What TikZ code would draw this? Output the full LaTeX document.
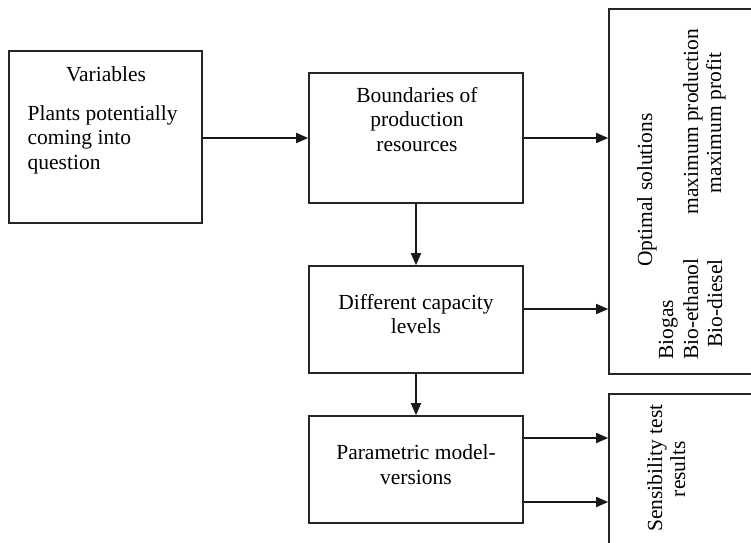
\documentclass[tikz,border=0pt]{standalone}
\usepackage{fontspec}
\setmainfont{Liberation Serif}
\usetikzlibrary{arrows.meta}
\begin{document}
\begin{tikzpicture}[x=1pt,y=-1pt,
  box/.style={draw=black!85, line width=1.6pt, fill=none, inner sep=0pt},
  txt/.style={inner sep=0pt, font=\fontsize{21.5}{24.5}\selectfont},
  arr/.style={line width=1.6pt, draw=black!90, -{Triangle[length=12pt,width=10pt]}}]
\useasboundingbox (0,0) rectangle (751,542);
\clip (0,0) rectangle (751,542);
\fill[white] (0,0) rectangle (751,542);
% boxes
\node[box, minimum width=193pt, minimum height=172pt] (var) at (105.5,137) {};
\node[box, minimum width=214pt, minimum height=130pt] (bound) at (416,138) {};
\node[box, minimum width=214pt, minimum height=107pt] (cap) at (416,319.5) {};
\node[box, minimum width=214pt, minimum height=107pt] (par) at (416,469.5) {};
\node[box, minimum width=170pt, minimum height=365pt] (opt) at (694,191.5) {};
\node[box, minimum width=170pt, minimum height=170pt] (sens) at (694,479) {};
% texts
\node[txt, anchor=base] (t1) at (106,81) {Variables};
\node[txt, anchor=base west] (t2) at (27.5,120) {Plants potentially};
\node[txt, anchor=base west] (t3) at (27.5,144.5) {coming into};
\node[txt, anchor=base west] (t4) at (27.5,169) {question};
\node[txt, anchor=base] (t5) at (417,102) {Boundaries of};
\node[txt, anchor=base] (t6) at (417,126.5) {production};
\node[txt, anchor=base] (t7) at (417,151) {resources};
\node[txt, anchor=base] (t8) at (416,309) {Different capacity};
\node[txt, anchor=base] (t9) at (416,333.5) {levels};
\node[txt, anchor=base] (t10) at (416,459.5) {Parametric model-};
\node[txt, anchor=base] (t11) at (416,484) {versions};
\node[txt, rotate=90, anchor=base] (r1) at (652,190) {Optimal solutions};
\node[txt, rotate=90, anchor=base] (r2) at (698,121.5) {maximum production};
\node[txt, rotate=90, anchor=base] (r3) at (721,123) {maximum profit};
\node[txt, rotate=90, anchor=base west] (r4) at (673,360) {Biogas};
\node[txt, rotate=90, anchor=base west] (r5) at (698,360) {Bio-ethanol};
\node[txt, rotate=90, anchor=base west] (r6) at (722,348) {Bio-diesel};
\node[txt, rotate=90, anchor=base] (r7) at (662,468) {Sensibility test};
\node[txt, rotate=90, anchor=base] (r8) at (685,469) {results};
% connectors
\draw[arr] (var.east |- bound.west) -- (bound.west);
\draw[arr] (bound.east) -- (bound.east -| opt.west);
\draw[arr] (bound.south) -- (cap.north);
\draw[arr] (cap.south) -- (par.north);
\coordinate (c1) at ([yshift=10.5pt]cap.east);
\draw[arr] (c1) -- (c1 -| opt.west);
\coordinate (p1) at ([yshift=31.5pt]par.east);
\coordinate (p2) at ([yshift=-32.5pt]par.east);
\draw[arr] (p1) -- (p1 -| sens.west);
\draw[arr] (p2) -- (p2 -| sens.west);
\end{tikzpicture}
\end{document}
